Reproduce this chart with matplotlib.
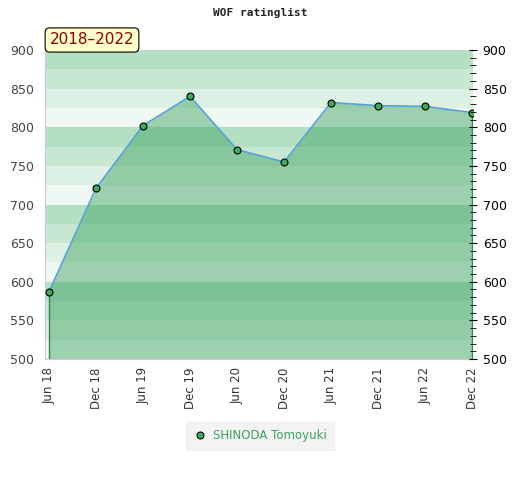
import matplotlib.pyplot as plt
from matplotlib.lines import Line2D
import numpy as np

periods = ['Jun 18', 'Dec 18', 'Jun 19', 'Dec 19', 'Jun 20',
           'Dec 20', 'Jun 21', 'Dec 21', 'Jun 22', 'Dec 22']
rating = [587, 721, 802, 840, 771, 755, 832, 828, 827, 819]
player = 'SHINODA Tomoyuki'
span_label = '2018\u20132022'

band_colors = ['#b3dfc3', '#c8e7d3', '#ddf0e4', '#eff8f2']

fig = plt.figure(figsize=(5.2, 4.8), dpi=100)
ax = fig.add_axes([45 / 520, 1 - 359 / 480, 428 / 520, 309 / 480])

x = np.arange(len(periods))
ax.set_xlim(-0.085, 9.02)
ax.set_ylim(500, 900)

# striped background, 4 bands per 100 points, dark on top
for top in range(900, 500, -25):
    k = ((900 - top) // 25) % 4
    ax.axhspan(top - 25, top, color=band_colors[k], lw=0, zorder=0)

ax.fill_between(x, rating, 500, color='#38a05c', alpha=0.45, lw=0, zorder=1)
ax.plot([x[0], x[0]], [500, rating[0]], color='#2e8b50', lw=1, zorder=2)
ax.plot([x[-1], x[-1]], [500, rating[-1]], color='#2e8b50', lw=1, zorder=2)
ax.plot(x, rating, color='#5aa0d8', lw=1.2, zorder=3)
ax.plot(x, rating, 'o', ms=5, mfc='#3daa5c', mec='black', mew=0.8, zorder=4)

ax.set_xticks(x)
ax.set_xticklabels(periods, rotation=90, fontsize=8.5, color='#333333')
ax.tick_params(axis='x', length=0, pad=6)
ax.set_yticks(range(500, 901, 50))
ax.tick_params(axis='y', length=0, labelsize=9, labelcolor='#444444', pad=8)
for s in ['top', 'right']:
    ax.spines[s].set_visible(False)
for s in ['left', 'bottom']:
    ax.spines[s].set_color('#cccccc')

ax2 = ax.twinx()
ax2.set_ylim(500, 900)
ax2.set_yticks(range(500, 901, 50))
ax2.set_yticks(range(500, 901, 10), minor=True)
ax2.tick_params(axis='y', which='major', direction='inout', length=6,
                labelsize=9, pad=4)
ax2.tick_params(axis='y', which='minor', direction='inout', length=4)
for s in ['top', 'left', 'bottom', 'right']:
    ax2.spines[s].set_visible(False)

fig.text(260 / 520, 1 - 13 / 480, 'WOF ratinglist', ha='center', va='center',
         fontsize=8, fontweight='bold', family='DejaVu Sans Mono', color='#222222')

fig.text(92 / 520, 1 - 40 / 480, span_label, ha='center', va='center',
         fontsize=11, color='#8b0000',
         bbox=dict(boxstyle='round,pad=0.3,rounding_size=0.3',
                   fc='#ffffcc', ec='black', lw=0.8))

handle = Line2D([], [], ls='none', marker='o', ms=5, mfc='#3daa5c',
                mec='black', mew=0.8)
leg = fig.legend([handle], [player], loc='center',
                 bbox_to_anchor=(260 / 520, 1 - 436 / 480),
                 frameon=True, fontsize=8.5, handletextpad=0.6, borderpad=0.35,
                 handlelength=1.0, borderaxespad=0)
leg.get_frame().set_facecolor('#f0f0f0')
leg.get_frame().set_edgecolor('#f0f0f0')
leg.get_frame().set_boxstyle('square')
for t in leg.get_texts():
    t.set_color('#3aa35f')

fig.savefig('out.png', dpi=100)
